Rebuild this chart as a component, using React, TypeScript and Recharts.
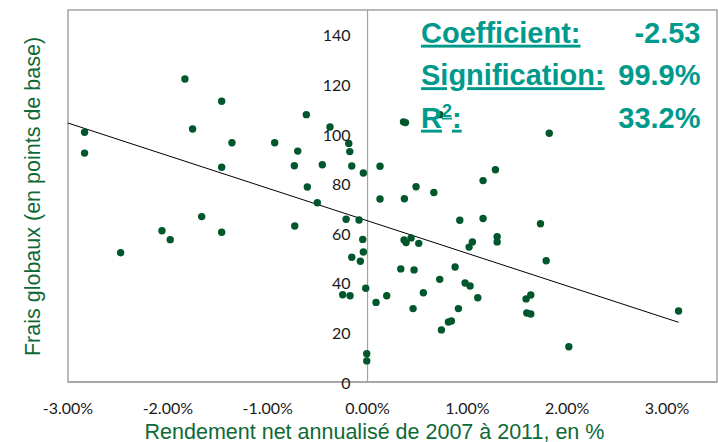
import React from "react";
import {
  ScatterChart,
  Scatter,
  XAxis,
  YAxis,
  ReferenceLine,
  ReferenceArea,
} from "recharts";

// ─── Data ─────────────────────────────────────────────────────────────────────
// x: rendement net annualisé 2007-2011 (%), y: frais globaux (points de base)
const RETURNS = [
  -2.834, -2.834, -2.473, -2.059, -1.976, -1.829, -1.752, -1.661, -1.461,
  -1.461, -1.461, -1.358, -0.93, -0.733, -0.729, -0.699, -0.613, -0.603,
  -0.503, -0.453, -0.376, -0.249, -0.215, -0.188, -0.178, -0.175, -0.158,
  -0.158, -0.085, -0.072, -0.048, -0.042, -0.042, -0.018, -0.008, -0.008,
  0.085, 0.125, 0.125, 0.192, 0.333, 0.36, 0.38, 0.369, 0.366, 0.386, 0.436,
  0.456, 0.466, 0.486, 0.513, 0.559, 0.664, 0.723, 0.726, 0.74, 0.81, 0.84,
  0.877, 0.91, 0.924, 0.977, 1.027, 1.017, 1.05, 1.104, 1.157, 1.157, 1.281,
  1.298, 1.298, 1.588, 1.635, 1.595, 1.635, 1.732, 1.789, 1.82, 2.016, 3.115,
];

const FEES = [
  100.7, 92.3, 52.1, 61.0, 57.4, 122.2, 102.0, 66.7, 113.2, 86.6, 60.4, 96.5,
  96.5, 87.2, 62.9, 93.1, 107.8, 78.6, 72.3, 87.6, 102.8, 35.2, 65.6, 96.2,
  92.9, 34.8, 87.1, 50.3, 65.3, 48.7, 57.5, 84.3, 52.4, 37.8, 11.4, 8.5, 32.1,
  87.0, 73.8, 34.8, 45.6, 104.9, 104.6, 73.9, 57.3, 56.2, 58.1, 29.6, 45.2,
  78.7, 55.9, 36.0, 76.4, 41.4, 107.8, 21.0, 24.2, 24.6, 46.4, 29.6, 65.2,
  39.9, 38.7, 54.4, 56.5, 34.0, 81.2, 65.9, 85.6, 58.6, 56.5, 33.5, 35.1,
  27.8, 27.4, 63.8, 48.9, 100.3, 14.2, 28.6,
];

const X_TICKS = [-3, -2, -1, 0, 1, 2, 3];
const Y_TICKS = [0, 20, 40, 60, 80, 100, 120, 140];

// trendline as drawn in the chart (y in bp, x in %)
const TREND_INTERCEPT = 65.0;
const TREND_SLOPE = -13.14;
const TREND_FROM = -3;
const TREND_TO = 3.115;

const STATS = [
  { label: "Coefficient:", value: "-2.53" },
  { label: "Signification:", value: "99.9%" },
  { label: "R2:", value: "33.2%" },
];

// ─── Layout ───────────────────────────────────────────────────────────────────
const W = 718;
const H = 442;
const X_MIN = -3;
const X_MAX = 3.5;
const PLOT_LEFT = 68;
const PLOT_RIGHT = 717;
const Y_AXIS_W = 40;
const ZERO_X =
  PLOT_LEFT + ((0 - X_MIN) / (X_MAX - X_MIN)) * (PLOT_RIGHT - PLOT_LEFT);

const GRAY = "#a3a3a3";
const DOT = "#00572b";
const TITLE_GREEN = "#0d6a36";
const TEAL = "#009a8c";
const TICK_FONT = "Lato, 'Open Sans', sans-serif";
const ARIAL = "'Liberation Sans', Arial, sans-serif";

const points = RETURNS.map((x, i) => ({ x, y: FEES[i] }));

// y labels sit beside the vertical zero line, not at the plot edge
function YTick(props: any) {
  const { y, payload } = props;
  return (
    <text
      x={ZERO_X - 17}
      y={y}
      textAnchor="end"
      dominantBaseline="central"
      fontFamily={TICK_FONT}
      fontSize={16}
      fill="#1a1a1a"
    >
      {payload.value}
    </text>
  );
}

function Dot(props: any) {
  const { cx, cy } = props;
  if (cx == null || cy == null) return <g />;
  return <circle cx={cx} cy={cy} r={3.7} fill={DOT} />;
}

export default function App() {
  return (
    <div
      style={{
        position: "absolute",
        left: 0,
        top: 0,
        width: W,
        height: H,
        background: "#fff",
      }}
    >
      <ScatterChart
        width={W}
        height={H}
        margin={{
          top: 10,
          right: W - PLOT_RIGHT,
          bottom: 0,
          left: PLOT_LEFT - Y_AXIS_W,
        }}
      >
        <XAxis
          type="number"
          dataKey="x"
          domain={[X_MIN, X_MAX]}
          ticks={X_TICKS}
          allowDataOverflow
          tickFormatter={(v: number) => `${v.toFixed(2)}%`}
          axisLine={{ stroke: GRAY, strokeWidth: 1.5 }}
          tickLine={false}
          tickMargin={15}
          height={60}
          tick={{ fontSize: 16, fill: "#1a1a1a", fontFamily: TICK_FONT }}
        />
        <YAxis
          type="number"
          dataKey="y"
          domain={[0, 150]}
          ticks={Y_TICKS}
          allowDataOverflow
          width={Y_AXIS_W}
          axisLine={false}
          tickLine={false}
          tick={(p: any) => <YTick {...p} />}
        />

        <ReferenceArea
          x1={X_MIN}
          x2={X_MAX}
          y1={0}
          y2={150}
          fill="none"
          stroke={GRAY}
          strokeWidth={1.5}
        />
        <ReferenceLine x={0} stroke={GRAY} strokeWidth={1.2} />
        <ReferenceLine
          segment={[
            { x: TREND_FROM, y: TREND_INTERCEPT + TREND_SLOPE * TREND_FROM },
            { x: TREND_TO, y: TREND_INTERCEPT + TREND_SLOPE * TREND_TO },
          ]}
          stroke="#000"
          strokeWidth={1}
        />

        <Scatter data={points} shape={Dot} isAnimationActive={false} />
      </ScatterChart>

      {/* Titles and regression stats */}
      <svg
        width={W}
        height={H}
        style={{ position: "absolute", left: 0, top: 0, pointerEvents: "none" }}
      >
        <text
          x={374.5}
          y={438.5}
          textAnchor="middle"
          fontFamily={ARIAL}
          fontSize={21.5}
          fill={TITLE_GREEN}
        >
          Rendement net annualisé de 2007 à 2011, en %
        </text>
        <text
          transform="translate(40,196.5) rotate(-90)"
          textAnchor="middle"
          fontFamily={ARIAL}
          fontSize={21.5}
          fill={TITLE_GREEN}
        >
          Frais globaux (en points de base)
        </text>

        {STATS.map((s, i) => {
          const base = 42.7 + i * 42.5;
          return (
            <g
              key={s.label}
              fontFamily={ARIAL}
              fontWeight="bold"
              fontSize={29}
              fill={TEAL}
            >
              <text x={421} y={base} textDecoration="underline">
                {s.label === "R2:" ? (
                  <>
                    R<tspan fontSize={18} dy={-11}>2</tspan>
                    <tspan dy={11}>:</tspan>
                  </>
                ) : (
                  s.label
                )}
              </text>
              <text x={700.5} y={base} textAnchor="end">
                {s.value}
              </text>
            </g>
          );
        })}
      </svg>
    </div>
  );
}
